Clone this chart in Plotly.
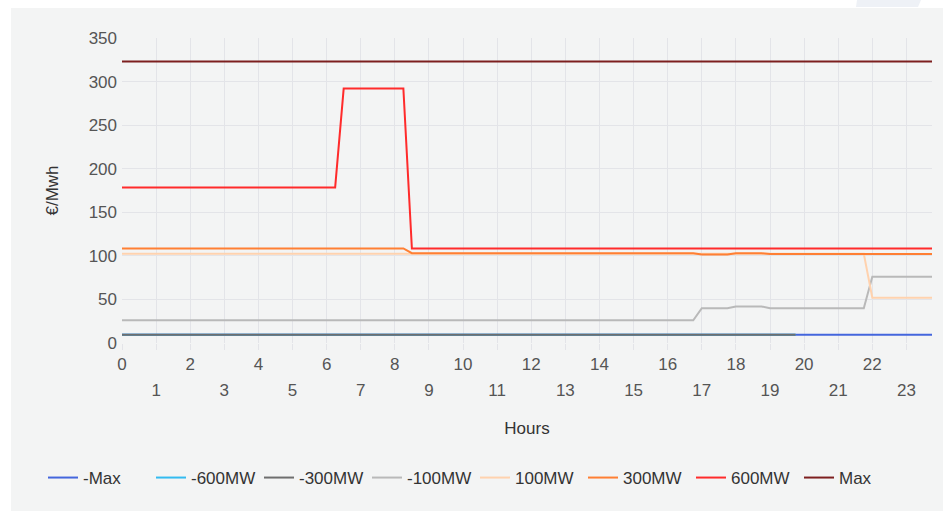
import plotly.graph_objects as go

# ---- data (hour -> €/MWh breakpoints) ----
hours_axis = list(range(24))
even_hours = [h for h in hours_axis if h % 2 == 0]
odd_hours = [h for h in hours_axis if h % 2 == 1]

series_names = ["-Max", "-600MW", "-300MW", "-100MW", "100MW", "300MW", "600MW", "Max"]
series_colors = ["#4466dd", "#33bbf0", "#6e6e6e", "#b9b9b9", "#ffd2ae", "#ff7f33", "#ff2b2b", "#7d1f1f"]

neg_max_x = [0, 23.75]
neg_max_y = [9.5, 9.5]

neg600_x = [0, 19.75]
neg600_y = [9.5, 9.5]

neg300_x = [0, 19.75]
neg300_y = [9.5, 9.5]

neg100_x = [0, 16.75, 17.0, 17.75, 18.0, 18.75, 19.0, 21.75, 22.0, 23.75]
neg100_y = [26, 26, 40, 40, 42, 42, 40, 40, 76, 76]

pos100_x = [0, 21.75, 22.0, 23.75]
pos100_y = [102.5, 102.5, 52, 52]

pos300_x = [0, 8.25, 8.5, 16.75, 17.0, 17.75, 18.0, 18.75, 19.0, 23.75]
pos300_y = [108.5, 108.5, 103, 103, 101.5, 101.5, 103, 103, 102, 102]

pos600_x = [0, 6.25, 6.5, 8.25, 8.5, 23.75]
pos600_y = [178.5, 178.5, 292, 292, 108.5, 108.5]

max_x = [0, 23.75]
max_y = [323, 323]

xs = [neg_max_x, neg600_x, neg300_x, neg100_x, pos100_x, pos300_x, pos600_x, max_x]
ys = [neg_max_y, neg600_y, neg300_y, neg100_y, pos100_y, pos300_y, pos600_y, max_y]

y_ticks = [0, 50, 100, 150, 200, 250, 300, 350]

FONT = "Liberation Sans, Arial, sans-serif"
GRID = "#e3e4e8"
TXT = "#555555"

fig = go.Figure()
for name, color, x, y in zip(series_names, series_colors, xs, ys):
    fig.add_trace(go.Scatter(x=x, y=y, name=name, mode="lines",
                             line=dict(color=color, width=2)))

# empty carrier trace so the second (odd-hour label) axis is drawn
fig.add_trace(go.Scatter(x=odd_hours, y=[None] * len(odd_hours), xaxis="x2",
                         mode="lines", showlegend=False, hoverinfo="skip"))

L, R, T, B = 122, 11, 38, 168
W, H = 943, 511
pw, ph = W - L - R, H - T - B

fig.update_layout(
    width=W, height=H,
    margin=dict(l=L, r=R, t=T, b=B, autoexpand=False),
    paper_bgcolor="white",
    plot_bgcolor="rgba(0,0,0,0)",
    font=dict(family=FONT, size=17, color=TXT),
    showlegend=True,
    legend=dict(orientation="h", x=(43 - L) / pw, xanchor="left",
                y=-(478 - T - ph) / ph, yanchor="middle",
                entrywidth=63, entrywidthmode="pixels",
                font=dict(family=FONT, size=17, color="#333333"),
                bgcolor="rgba(0,0,0,0)", traceorder="normal"),
    xaxis=dict(range=[0, 23.75], tickmode="array", tickvals=hours_axis,
               ticktext=[str(h) if h % 2 == 0 else "" for h in hours_axis],
               showgrid=True, gridcolor=GRID, gridwidth=1,
               ticks="outside", ticklen=6, tickcolor=GRID,
               showline=False, zeroline=False, automargin=False,
               title=dict(text="Hours", standoff=48, font=dict(size=17, color="#333333")),
               tickfont=dict(size=17, color=TXT)),
    xaxis2=dict(range=[0, 23.75], overlaying="x", anchor="y", side="bottom",
                tickmode="array", tickvals=odd_hours,
                ticktext=[str(h) for h in odd_hours],
                showgrid=False, zeroline=False, showline=False, ticks="",
                automargin=False,
                ticklabelstandoff=35, tickfont=dict(size=17, color=TXT)),
    yaxis=dict(range=[0, 350], tickmode="array", tickvals=y_ticks,
               showgrid=True, gridcolor=GRID, gridwidth=1,
               zeroline=False, showline=False, ticks="", automargin=False,
               ticklabelstandoff=4,
               title=dict(text="€/Mwh", standoff=25, font=dict(size=17, color="#333333")),
               tickfont=dict(size=17, color=TXT)),
)

# chart background panel and small tab at top right
fig.add_shape(type="rect", xref="paper", yref="paper", layer="below",
              x0=(11 - L) / pw, x1=(W - L) / pw,
              y0=-(H - T - ph) / ph, y1=(ph + T - 8) / ph,
              fillcolor="#f3f4f4", line=dict(width=0))
fig.add_shape(type="path", xref="paper", yref="paper", layer="below",
              path="M {a},{t} L {b},{t} L {c},{u} L {d},{u} Z".format(
                  a=(857 - L) / pw, b=(921 - L) / pw, c=(918 - L) / pw, d=(856 - L) / pw,
                  t=(ph + T) / ph, u=(ph + T - 7) / ph),
              fillcolor="#eef1f6", line=dict(width=0))

fig.write_html("out.html", config={"displayModeBar": False},
               post_script="document.body.style.margin='0px';")
